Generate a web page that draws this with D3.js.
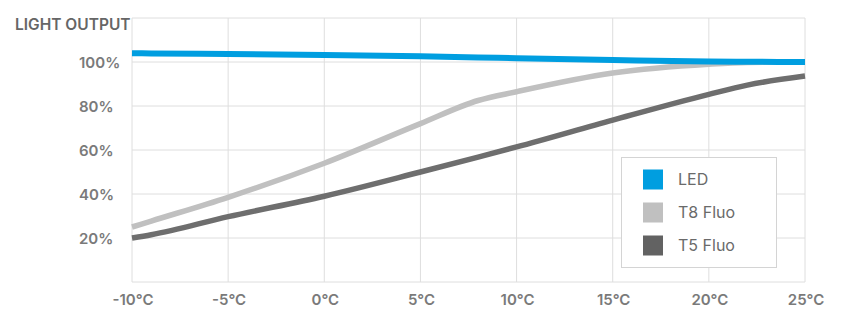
<html>
<head>
<meta charset="utf-8">
<script src="https://d3js.org/d3.v7.min.js"></script>
<style>
body {
	margin: 0;
	font-family: Inter, "Open Sans", sans-serif;
}
</style>
</head>
<body>
<div id="chart"></div>
<script>
	var temps = [-10, -9, -5, 0, 5, 8, 10, 15, 20, 22, 25];
	var led = [104, 103.9, 103.6, 103.2, 102.6, 102.1, 101.7, 100.9, 100.2, 100.1, 100];
	var t8 = [25, 27.7, 38.5, 54, 72, 82.5, 86.5, 95, 99, 99.8, 100];
	var t5 = [20, 21.5, 29.7, 39, 50, 56.8, 61.4, 73.6, 85.3, 89.5, 93.6];

	var xTicks = [-10, -5, 0, 5, 10, 15, 20, 25];
	var yTicks = [20, 40, 60, 80, 100];
	var yGrid = [0, 20, 40, 60, 80, 100, 120];

	var seriesNames = ["LED", "T8 Fluo", "T5 Fluo"];
	var seriesData = [led, t8, t5];
	var colors = ["#009ee0", "#c0c0c0", "#6e6e6e"];

	var width = 860, height = 320;
	var margin = {top: 18, right: 55, bottom: 38, left: 132};

	var svg = d3.select("#chart")
		.append("svg")
		.attr("width", width)
		.attr("height", height);

	var x = d3.scaleLinear()
		.domain([-10, 25])
		.range([margin.left, width - margin.right]);

	var y = d3.scaleLinear()
		.domain([0, 120])
		.range([height - margin.bottom, margin.top]);

	// grid
	svg.append("g")
		.selectAll("line.v")
		.data(xTicks)
		.enter().append("line")
		.attr("x1", d => x(d)).attr("x2", d => x(d))
		.attr("y1", y(0)).attr("y2", y(120))
		.attr("stroke", "#dedede")
		.attr("stroke-width", 1);

	svg.append("g")
		.selectAll("line.h")
		.data(yGrid)
		.enter().append("line")
		.attr("x1", x(-10)).attr("x2", x(25))
		.attr("y1", d => y(d)).attr("y2", d => y(d))
		.attr("stroke", "#dedede")
		.attr("stroke-width", 1);

	// axis labels
	svg.append("g")
		.selectAll("text")
		.data(xTicks)
		.enter().append("text")
		.attr("x", d => x(d) + 1)
		.attr("y", 305)
		.attr("text-anchor", "middle")
		.style("font-size", "15px")
		.style("font-weight", 600)
		.style("fill", "#7a7a7a")
		.text(d => d + "°C");

	svg.append("g")
		.selectAll("text")
		.data(yTicks)
		.enter().append("text")
		.attr("x", 79)
		.attr("y", d => y(d) + 5.5)
		.style("font-size", "15px")
		.style("font-weight", 600)
		.style("fill", "#7a7a7a")
		.text(d => d + "%");

	svg.append("text")
		.attr("x", 15)
		.attr("y", 30)
		.style("font-size", "15.5px")
		.style("font-weight", 600)
		.style("fill", "#666")
		.text("LIGHT OUTPUT");

	// lines
	var line = d3.line()
		.x((d, i) => x(temps[i]))
		.y(d => y(d))
		.curve(d3.curveMonotoneX);

	var order = [2, 1, 0];
	order.forEach(function(k) {
		svg.append("path")
			.attr("d", line(seriesData[k]))
			.attr("fill", "none")
			.attr("stroke", colors[k])
			.attr("stroke-width", k == 0 ? 6 : 5.5);
	});

	// legend
	var legend = svg.append("g")
		.attr("transform", "translate(621.5,157.5)");

	legend.append("rect")
		.attr("width", 155)
		.attr("height", 110)
		.attr("fill", "#fff")
		.attr("stroke", "#d4d4d4");

	var item = legend.selectAll("g.item")
		.data(seriesNames)
		.enter().append("g")
		.attr("transform", (d, i) => "translate(21.5," + (12 + i * 33) + ")");

	item.append("rect")
		.attr("width", 20)
		.attr("height", 20)
		.attr("fill", (d, i) => i == 2 ? "#626262" : colors[i]);

	item.append("text")
		.attr("x", 35)
		.attr("y", 15.5)
		.style("font-size", "16px")
		.style("fill", "#6a6a6a")
		.text(d => d);
</script>
</body>
</html>
